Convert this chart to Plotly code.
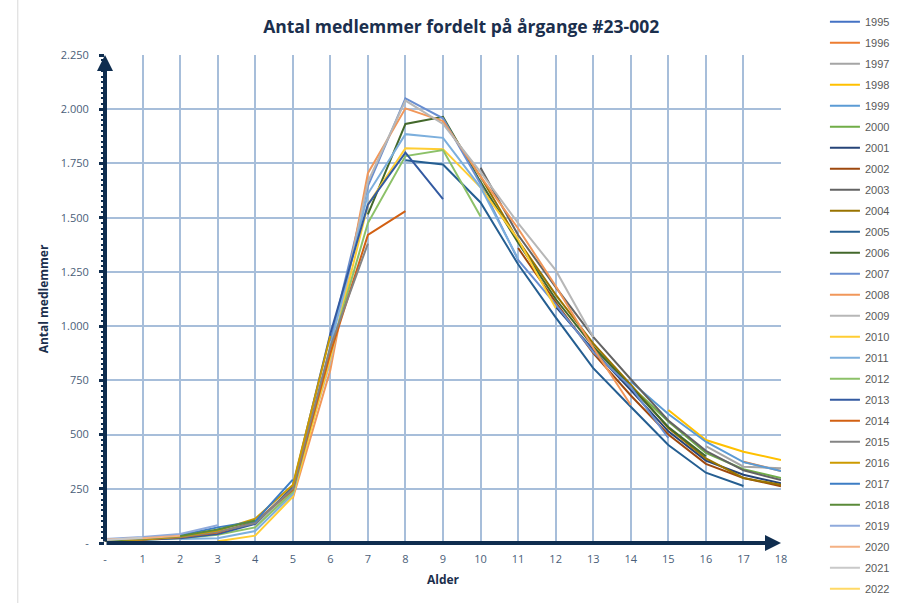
import plotly.graph_objects as go

# Alder (x) og antal medlemmer pr. årgang
ages = list(range(19))
years = list(range(1995, 2023))
first_age = [18, 17, 16, 15, 14, 13, 12, 11, 10, 9, 8, 7, 6, 5, 4, 3, 2, 1,
             0, 0, 0, 0, 0, 0, 0, 0, 0, 0]

v1995 = [270]
v1996 = [375, 332]
v1997 = [447, 352, 345]
v1998 = [613, 475, 421, 383]
v1999 = [745, 595, 467, 373, 332]
v2000 = [905, 725, 560, 415, 340, 300]
v2001 = [1090, 890, 705, 515, 380, 315, 275]
v2002 = [1360, 1110, 875, 680, 500, 365, 300, 262]
v2003 = [1730, 1420, 1180, 950, 755, 565, 425, 335, 290]
v2004 = [1945, 1690, 1395, 1145, 920, 730, 530, 390, 300, 268]
v2005 = [1765, 1745, 1570, 1285, 1040, 806, 628, 452, 324, 263]
v2006 = [1515, 1932, 1965, 1665, 1385, 1125, 905, 720, 535, 400]
v2007 = [930, 1645, 2050, 1958, 1655, 1305, 1100, 880, 720, 484]
v2008 = [205, 797, 1705, 2004, 1945, 1690, 1450, 1185, 900, 636]
v2009 = [75, 245, 835, 1665, 2040, 1932, 1710, 1475, 1258, 950]
v2010 = [8, 34, 213, 855, 1560, 1820, 1816, 1640, 1400, 1083]
v2011 = [18, 22, 55, 225, 905, 1610, 1885, 1868, 1640, 1310]
v2012 = [15, 22, 38, 72, 235, 880, 1475, 1784, 1812, 1505]
v2013 = [12, 15, 22, 42, 88, 258, 965, 1560, 1800, 1586]
v2014 = [10, 16, 26, 48, 98, 245, 875, 1420, 1530]
v2015 = [12, 18, 28, 52, 92, 250, 905, 1380]
v2016 = [10, 16, 30, 58, 112, 268, 955]
v2017 = [15, 22, 36, 72, 100, 292]
v2018 = [12, 20, 32, 62, 104]
v2019 = [18, 28, 42, 82]
v2020 = [16, 22, 34]
v2021 = [14, 24]
v2022 = [16]

series = [v1995, v1996, v1997, v1998, v1999, v2000, v2001, v2002, v2003, v2004,
          v2005, v2006, v2007, v2008, v2009, v2010, v2011, v2012, v2013, v2014,
          v2015, v2016, v2017, v2018, v2019, v2020, v2021, v2022]

y_tickvals = [0, 250, 500, 750, 1000, 1250, 1500, 1750, 2000, 2250]
y_ticktext = ["-", "250", "500", "750", "1.000", "1.250", "1.500", "1.750", "2.000", "2.250"]
x_ticktext = ["-"] + [str(a) for a in ages[1:]]

colors = ["#4472C4", "#ED7D31", "#A5A5A5", "#FFC000", "#5B9BD5", "#70AD47", "#264478",
          "#9E480E", "#636363", "#997300", "#255E91", "#43682B", "#698ED0", "#F1975A",
          "#B7B7B7", "#FFCD33", "#7CAFDD", "#8CC168", "#335AA1", "#D26012", "#848484",
          "#CC9A00", "#3C7DC4", "#5A8A39", "#8FAADC", "#F4B183", "#C9C9C9", "#FFD966"]

NAVY = "#0F2D4F"
TICKCOL = "#4A5E78"
GRID = "#A7BEDA"

fig = go.Figure()

for yr, start, vals, col in zip(years, first_age, series, colors):
    fig.add_trace(go.Scatter(
        x=ages[start:start + len(vals)], y=vals,
        mode="lines", name=str(yr), legendgroup=str(yr),
        line=dict(color=col, width=2),
    ))

# akser med pile
fig.add_annotation(x=18, y=0, ax=0, ay=0, xref="x", yref="y", axref="x", ayref="y",
                   showarrow=True, arrowhead=2, arrowsize=0.8, arrowwidth=4,
                   arrowcolor=NAVY, text="")
fig.add_annotation(x=0, y=2250, ax=0, ay=0, xref="x", yref="y", axref="x", ayref="y",
                   showarrow=True, arrowhead=2, arrowsize=0.8, arrowwidth=4,
                   arrowcolor=NAVY, text="")

# tynd ramme til venstre
fig.add_shape(type="line", xref="paper", yref="paper", x0=-0.129, x1=-0.129,
              y0=-0.13, y1=1.12, line=dict(color="#D9D9D9", width=1))

fig.update_layout(
    width=899, height=603,
    margin=dict(l=105, r=118, t=55, b=60, autoexpand=False),
    paper_bgcolor="white", plot_bgcolor="white",
    title=dict(text="<b>Antal medlemmer fordelt på årgange #23-002</b>",
               x=0.513, xref="container", xanchor="center",
               y=0.955, yref="container", yanchor="middle", automargin=False,
               font=dict(family="Open Sans", size=17.5, color="#1B2F4D")),
    legend=dict(x=1.065, xanchor="left", y=1.098, yanchor="top",
                font=dict(family="Liberation Sans", size=11, color="#595959"),
                tracegroupgap=2, bgcolor="rgba(0,0,0,0)", maxheight=603),
    showlegend=True,
)

fig.update_xaxes(
    range=[0, 18], tickvals=ages, ticktext=x_ticktext, automargin=False,
    showgrid=True, gridcolor=GRID, gridwidth=1.5, zeroline=False, showline=False,
    ticks="", ticklabelstandoff=8,
    tickfont=dict(family="Open Sans", size=11, color=TICKCOL),
    title=dict(text="<b>Alder</b>", standoff=10,
               font=dict(family="Open Sans", size=12, color="#1B2F4D")),
)
fig.update_yaxes(
    range=[0, 2250], tickvals=y_tickvals, ticktext=y_ticktext, automargin=False,
    showgrid=True, gridcolor=GRID, gridwidth=1.5, zeroline=False, showline=False,
    ticks="outside", ticklen=5, tickwidth=3, tickcolor=NAVY, ticklabelstandoff=8,
    minor=dict(dtick=25, ticks="outside", ticklen=3, tickwidth=2, tickcolor=NAVY, showgrid=False),
    tickfont=dict(family="Open Sans", size=11, color=TICKCOL),
    title=dict(text="<b>Antal medlemmer</b>", standoff=9,
               font=dict(family="Open Sans", size=12, color="#1B2F4D")),
)

fig.write_html("out.html", config={"displayModeBar": False},
               post_script="document.body.style.margin='0';")
